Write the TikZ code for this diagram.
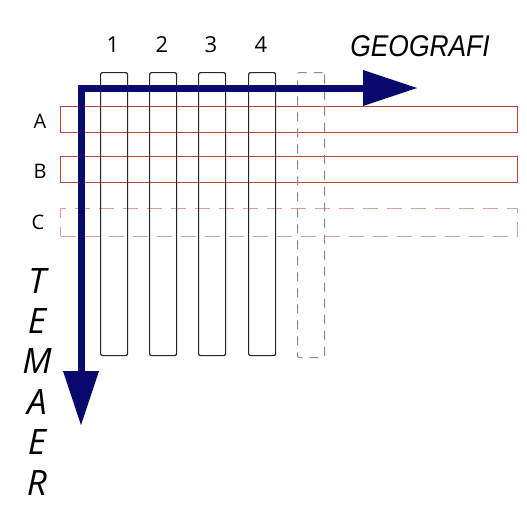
\documentclass[tikz,border=0pt]{standalone}
\usepackage{fontspec}
\setmainfont{Open Sans}
\newfontfamily\geofont{Liberation Sans}
\usetikzlibrary{positioning, arrows.meta}
\definecolor{navyblue}{HTML}{0A0A6E}
\definecolor{rowred}{HTML}{B5473A}
\definecolor{ghostred}{HTML}{D8A096}
\definecolor{ghostgrey}{HTML}{8A8A8A}

\tikzset{
  colbox/.style={draw=black!85, line width=1.2pt, rounded corners=2pt, inner sep=0pt,
                 minimum width=27pt, minimum height=283pt, anchor=north west},
  ghostcol/.style={colbox, draw=ghostgrey, line width=1pt, dash pattern=on 9pt off 7pt,
                   minimum height=285pt},
  rowbox/.style={draw=rowred, line width=1.4pt, inner sep=0pt,
                 minimum width=457pt, minimum height=26pt, anchor=north west},
  ghostrow/.style={rowbox, draw=ghostred, line width=1.2pt, dash pattern=on 15pt off 9pt,
                   minimum height=27.5pt},
  numlbl/.style={font=\fontsize{22}{22}\selectfont, inner sep=0pt},
  rowlbl/.style={font=\fontsize{20}{20}\selectfont, inner sep=0pt},
  temlbl/.style={font=\fontsize{35}{35}\selectfont\itshape, inner sep=0pt, anchor=base},
  axisarrow/.style={draw=navyblue, line width=7pt, line join=miter,
                    {Triangle[length=55pt, width=34pt]}-{Triangle[length=55pt, width=34pt]}}
}

\begin{document}
\begin{tikzpicture}[x=1pt, y=-1pt]
  \useasboundingbox (0,0) rectangle (527,506);

  % rows A, B and the open row C
  \node[rowbox] (rowA) at (60,106) {};
  \node[rowbox] (rowB) at (60,155.5) {};
  \node[ghostrow] (rowC) at (60,208) {};
  \node[rowlbl] (lblA) at (40,121) {A};
  \node[rowlbl] (lblB) at (40,171) {B};
  \node[rowlbl] (lblC) at (38,222) {C};

  % columns 1--4 and the open one
  \foreach \i/\x in {1/100, 2/149, 3/198, 4/248}{
    \node[colbox] (col\i) at (\x,72) {};
    \node[numlbl] (num\i) at (\x+13,45) {\i};
  }
  \node[ghostcol] (col5) at (297,72) {};

  % axes
  \coordinate (origin) at (81,88);
  \coordinate (geoend) at (418,88);
  \coordinate (temend) at (81,426);
  \draw[axisarrow] (geoend) -- (origin) -- (temend);

  \node[font=\geofont\fontsize{30}{30}\selectfont\itshape, inner sep=0pt] (geo) at (420,46)
    {\scalebox{0.88}[1]{GEOGRAFI}};
  \foreach \l [count=\k] in {T,E,M,A,E,R}
    \node[temlbl] (tem\k) at (37,293+40.4*\k-40.4) {\l};
\end{tikzpicture}
\end{document}
